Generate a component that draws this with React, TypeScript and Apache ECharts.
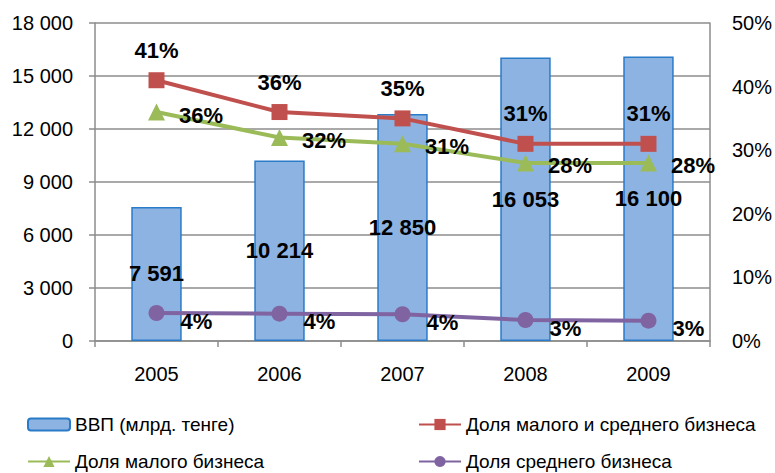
import React, { useEffect, useRef } from "react";
import * as echarts from "echarts";

const years = ["2005", "2006", "2007", "2008", "2009"];
const gdp = [7591, 10214, 12850, 16053, 16100];
const smeShare = [41, 36, 35, 31, 31];
const smallShare = [36, 32, 31, 28, 28];
const mediumShare = [4.4, 4.3, 4.2, 3.3, 3.2];

const seriesNames = [
  "ВВП (млрд. тенге)",
  "Доля малого и среднего бизнеса",
  "Доля малого бизнеса",
  "Доля среднего бизнеса",
];

const FONT = "Liberation Sans";
const fmtThousands = (v: number) =>
  String(Math.round(v)).replace(/\B(?=(\d{3})+(?!\d))/g, " ");

export default function App() {
  const ref = useRef<HTMLDivElement>(null);
  useEffect(() => {
    if (!ref.current) return;
    const chart = echarts.init(ref.current, undefined, { renderer: "svg" });
    const labelBase = {
      show: true,
      fontFamily: FONT,
      fontSize: 22,
      fontWeight: "bold" as const,
      color: "#000",
    };
    const legendText = { fontFamily: FONT, fontSize: 19, color: "#000", lineHeight: 19 };
    chart.setOption({
      animation: false,
      textStyle: { fontFamily: FONT },
      grid: { left: 95, right: 64, top: 23, bottom: 132, containLabel: false },
      legend: [
        { data: [seriesNames[0]], left: 27, top: 415, itemWidth: 42, itemHeight: 12, itemGap: 4, textStyle: legendText, padding: 0 },
        { data: [seriesNames[1]], left: 418, top: 415, itemWidth: 42, itemHeight: 14, textStyle: legendText, padding: 0 },
        { data: [seriesNames[2]], left: 27, top: 452, itemWidth: 42, itemHeight: 14, textStyle: legendText, padding: 0 },
        { data: [seriesNames[3]], left: 418, top: 452, itemWidth: 42, itemHeight: 14, textStyle: legendText, padding: 0 },
      ],
      xAxis: {
        type: "category",
        data: years,
        axisLine: { lineStyle: { color: "#8c8c8c", width: 1.5 } },
        axisTick: { show: true, length: 6, lineStyle: { color: "#8c8c8c", width: 1.5 } },
        axisLabel: { fontFamily: FONT, fontSize: 20, color: "#000", margin: 23 },
      },
      yAxis: [
        {
          type: "value",
          min: 0,
          max: 18000,
          interval: 3000,
          axisLine: { show: true, lineStyle: { color: "#8c8c8c", width: 1.5 } },
          axisTick: { show: true, length: 6, lineStyle: { color: "#8c8c8c", width: 1.5 } },
          splitLine: { show: true, lineStyle: { color: "#8c8c8c", width: 1.5 } },
          axisLabel: {
            fontFamily: FONT,
            fontSize: 20,
            color: "#000",
            margin: 22,
            formatter: (v: number) => fmtThousands(v),
          },
        },
        {
          type: "value",
          min: 0,
          max: 50,
          interval: 10,
          axisLine: { show: true, lineStyle: { color: "#8c8c8c", width: 1.5 } },
          axisTick: { show: false },
          splitLine: { show: false },
          axisLabel: {
            fontFamily: FONT,
            fontSize: 20,
            color: "#000",
            margin: 22,
            formatter: "{value}%",
          },
        },
      ],
      series: [
        {
          name: seriesNames[0],
          type: "bar",
          data: gdp,
          barWidth: "41%",
          yAxisIndex: 0,
          itemStyle: { color: "#8db3e2", borderColor: "#2a7bc8", borderWidth: 1.5 },
          label: { ...labelBase, position: "inside", formatter: (p: any) => fmtThousands(p.value) },
          z: 1,
        },
        {
          name: seriesNames[1],
          type: "line",
          data: smeShare,
          yAxisIndex: 1,
          symbol: "rect",
          symbolSize: 16,
          lineStyle: { color: "#c0504d", width: 4 },
          itemStyle: { color: "#c0504d" },
          label: { ...labelBase, position: "top", distance: 11, formatter: (p: any) => Math.round(p.value) + "%" },
          z: 3,
        },
        {
          name: seriesNames[2],
          type: "line",
          data: smallShare,
          yAxisIndex: 1,
          symbol: "triangle",
          symbolSize: 17,
          lineStyle: { color: "#9bbb59", width: 4 },
          itemStyle: { color: "#9bbb59" },
          label: { ...labelBase, position: "right", distance: 14, offset: [0, 3], formatter: (p: any) => Math.round(p.value) + "%" },
          z: 3,
        },
        {
          name: seriesNames[3],
          type: "line",
          data: mediumShare,
          yAxisIndex: 1,
          symbol: "circle",
          symbolSize: 16,
          lineStyle: { color: "#8064a2", width: 4 },
          itemStyle: { color: "#8064a2" },
          label: { ...labelBase, position: "right", distance: 16, offset: [0, 8], formatter: (p: any) => Math.round(p.value) + "%" },
          z: 3,
        },
      ],
    });
    return () => chart.dispose();
  }, []);
  return <div ref={ref} style={{ width: 775, height: 473, position: "absolute", left: 0, top: 0 }} />;
}
